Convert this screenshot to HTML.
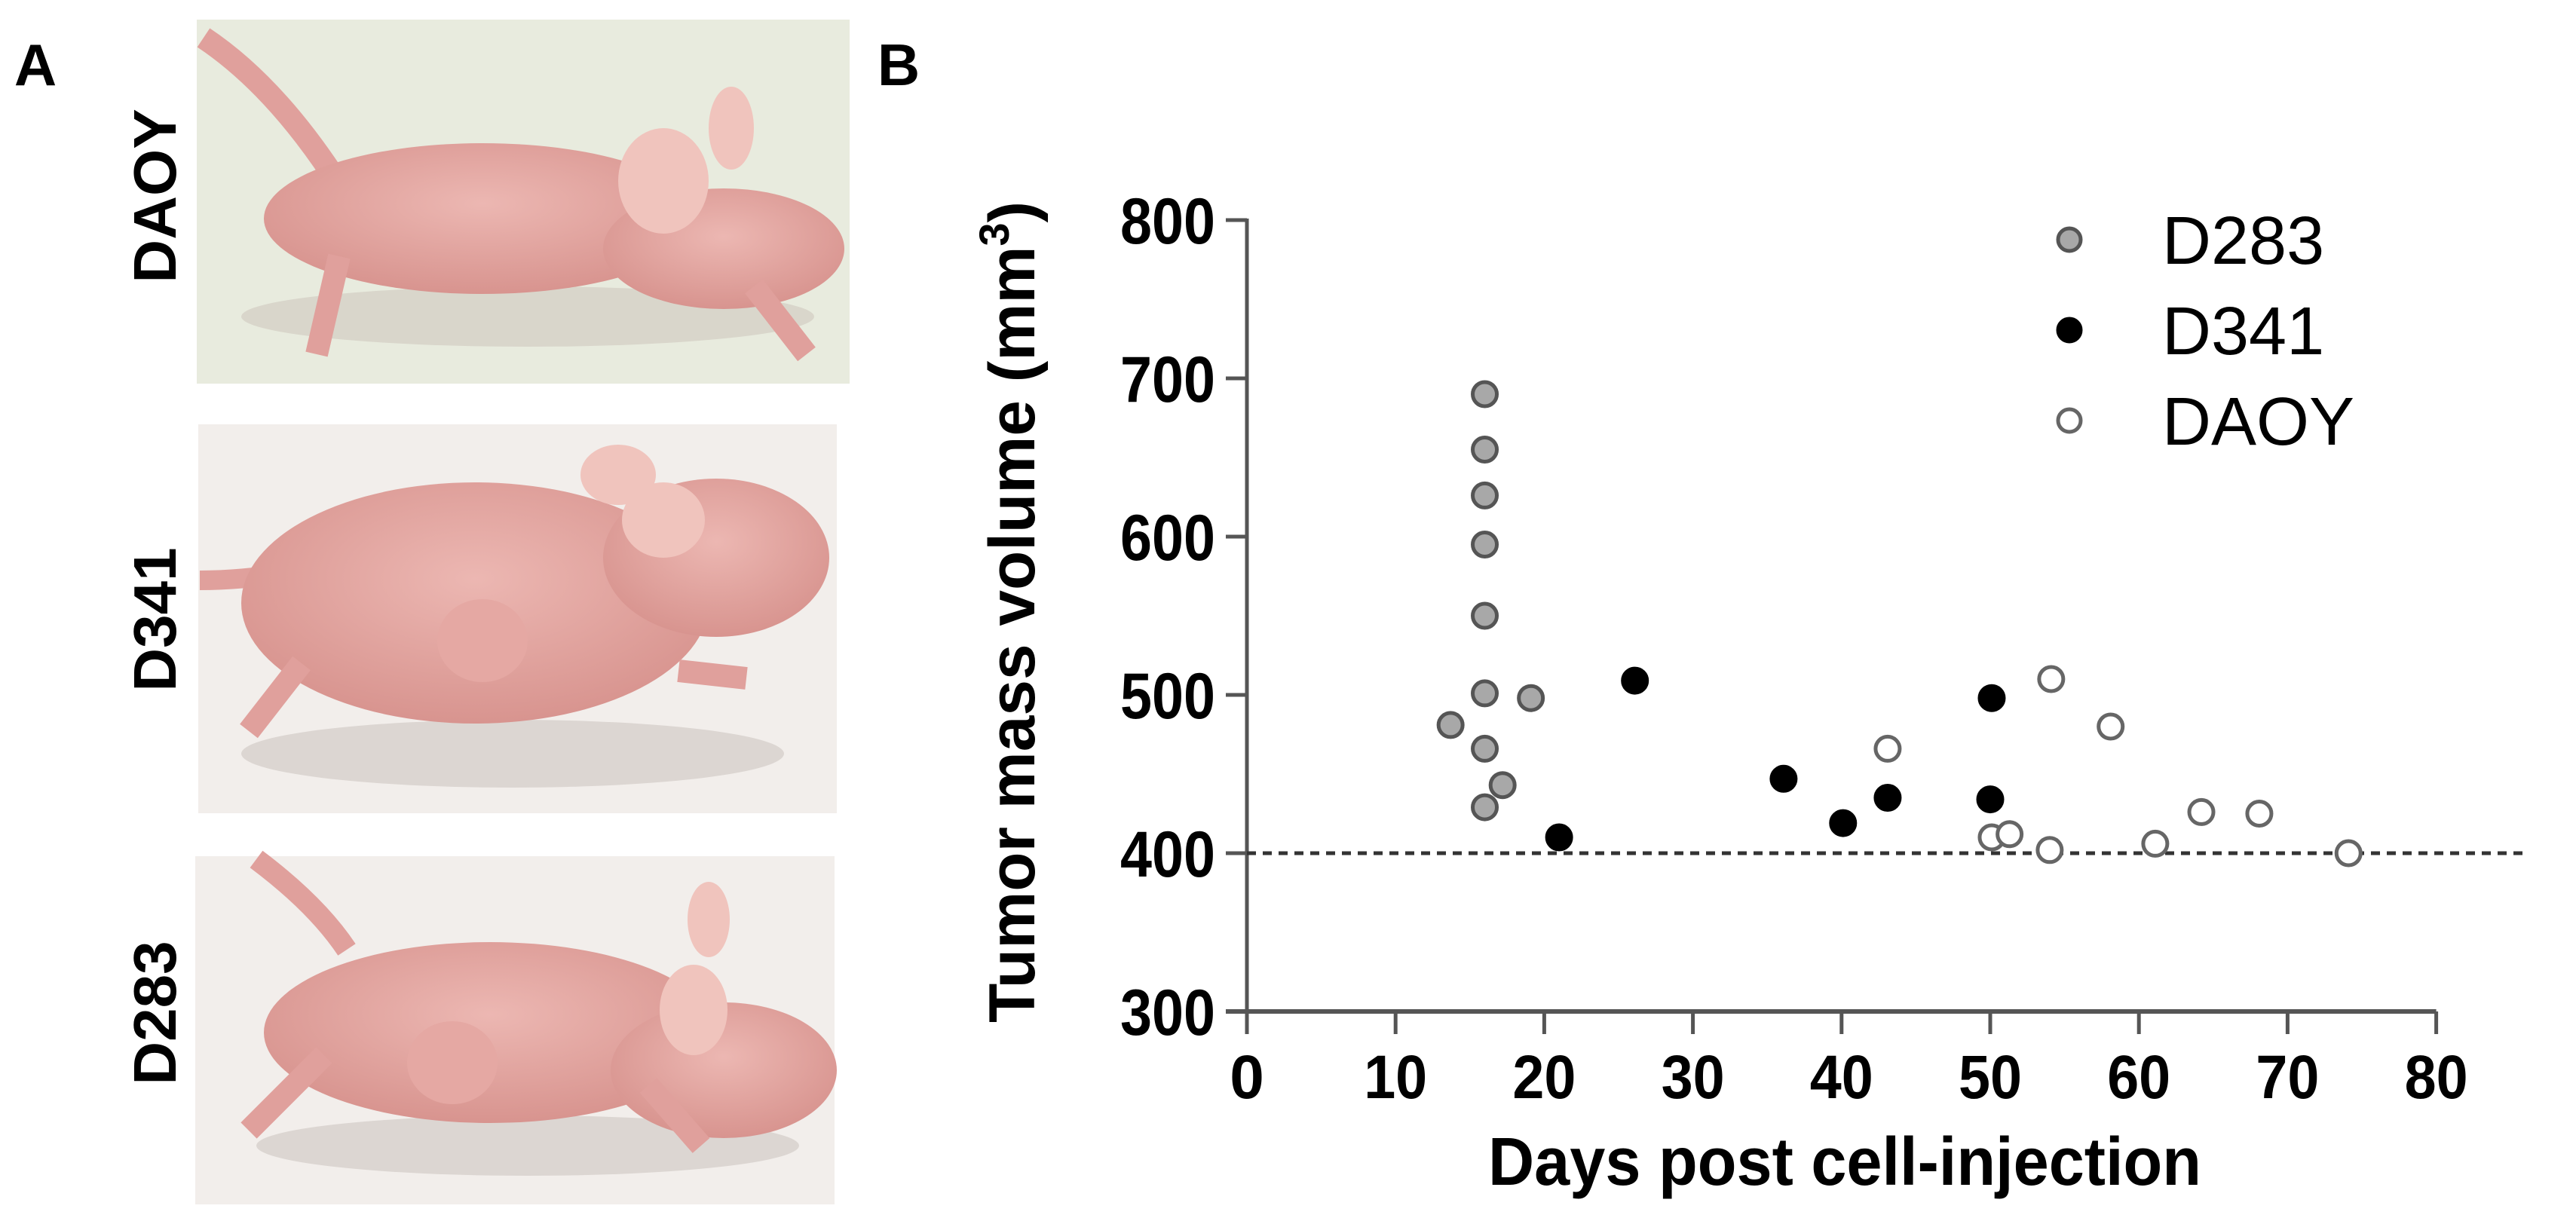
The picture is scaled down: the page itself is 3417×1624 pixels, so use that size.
<!DOCTYPE html>
<html><head><meta charset="utf-8"><style>
html,body{margin:0;padding:0;background:#fff;}
svg{display:block;font-family:"Liberation Sans",Arial,sans-serif;}
</style></head><body>
<svg id="fig" width="3417" height="1624" viewBox="0 0 3417 1624" xmlns="http://www.w3.org/2000/svg">
<defs>
<radialGradient id="pk" cx="50%" cy="40%" r="60%"><stop offset="0" stop-color="#ecb7b2"/><stop offset="1" stop-color="#d8948f"/></radialGradient>
</defs>
<g>
<text x="47" y="113" font-size="78" font-weight="bold" text-anchor="middle">A</text>
<g>
<rect x="261" y="26" width="866" height="483" fill="#e8ebde"/>
<ellipse cx="700" cy="420" rx="380" ry="40" fill="#d9d6cb"/>
<path d="M270 50 Q360 110 440 230" stroke="#e0a09c" stroke-width="30" fill="none"/>
<ellipse cx="640" cy="290" rx="290" ry="100" fill="url(#pk)"/>
<ellipse cx="960" cy="330" rx="160" ry="80" fill="url(#pk)"/>
<ellipse cx="880" cy="240" rx="60" ry="70" fill="#f0c4bd"/>
<ellipse cx="970" cy="170" rx="30" ry="55" fill="#f0c4bd"/>
<path d="M450 340 L420 470 M1000 380 L1070 470" stroke="#e0a09c" stroke-width="30"/>
</g>
<g>
<rect x="263" y="563" width="847" height="516" fill="#f2eeeb"/>
<ellipse cx="680" cy="1000" rx="360" ry="45" fill="#dcd6d2"/>
<path d="M265 770 Q320 770 380 760" stroke="#e0a09c" stroke-width="26" fill="none"/>
<ellipse cx="630" cy="800" rx="310" ry="160" fill="url(#pk)"/>
<ellipse cx="950" cy="740" rx="150" ry="105" fill="url(#pk)"/>
<ellipse cx="880" cy="690" rx="55" ry="50" fill="#f0c4bd"/>
<ellipse cx="820" cy="630" rx="50" ry="40" fill="#f0c4bd"/>
<ellipse cx="640" cy="850" rx="60" ry="55" fill="#e5a8a3"/>
<path d="M400 880 L330 970 M900 890 L990 900" stroke="#e0a09c" stroke-width="30"/>
</g>
<g>
<rect x="259" y="1136" width="848" height="462" fill="#f2eeeb"/>
<ellipse cx="700" cy="1520" rx="360" ry="40" fill="#dcd6d2"/>
<path d="M340 1140 Q420 1200 460 1260" stroke="#e0a09c" stroke-width="28" fill="none"/>
<ellipse cx="650" cy="1370" rx="300" ry="120" fill="url(#pk)"/>
<ellipse cx="960" cy="1420" rx="150" ry="90" fill="url(#pk)"/>
<ellipse cx="920" cy="1340" rx="45" ry="60" fill="#f0c4bd"/>
<ellipse cx="940" cy="1220" rx="28" ry="50" fill="#f0c4bd"/>
<ellipse cx="600" cy="1410" rx="60" ry="55" fill="#e5a8a3"/>
<path d="M430 1400 L330 1500 M860 1440 L930 1520" stroke="#e0a09c" stroke-width="30"/>
</g>
<text transform="translate(233,260) rotate(-90)" font-size="80" font-weight="bold" text-anchor="middle">DAOY</text>
<text transform="translate(233,822) rotate(-90)" font-size="80" font-weight="bold" text-anchor="middle">D341</text>
<text transform="translate(233,1344) rotate(-90)" font-size="80" font-weight="bold" text-anchor="middle">D283</text>
</g>
<text x="1192" y="113" font-size="78" font-weight="bold" text-anchor="middle">B</text>
<g id="chart"></g>
</svg>
<script>
const xTicks = [0,10,20,30,40,50,60,70,80];
const yTicks = [300,400,500,600,700,800];
const d283Days = [13.7,16,16,16,16,16,16,19.1,16,17.2,16];
const d283Vol  = [481,690,655,626,595,550,501,498,466,443,429];
const d341Days = [21,26.1,36.1,40.1,43.1,50.1,50];
const d341Vol  = [410,509,447,419,435,498,434];
const daoyDays = [43.1,50.1,51.3,54.1,54,58.1,61.1,64.2,68.1,74.1];
const daoyVol  = [466,410,412,510,402,480,406,426,425,400];
const thresholdVol = 400;
const legendLabels = ["D283","D341","DAOY"];

const NS = "http://www.w3.org/2000/svg";
const g = document.getElementById("chart");
const X0 = 1654, XPX = 19.72, Y300 = 1342, YPX = 2.1;
const xs = d => X0 + d * XPX;
const ys = v => Y300 - (v - 300) * YPX;
function mk(tag, attrs, parent) {
  const e = document.createElementNS(NS, tag);
  for (const k in attrs) e.setAttribute(k, attrs[k]);
  (parent || g).appendChild(e);
  return e;
}
let e;
e = mk("line", {x1: X0, y1: ys(300), x2: X0, y2: ys(800) - 2, stroke: "#555", "stroke-width": 5});


e = mk("line", {x1: X0 - 28, y1: ys(300), x2: xs(80), y2: ys(300), stroke: "#555", "stroke-width": 6});


yTicks.forEach(v => {
  let t = mk("line", {x1: X0 - 28, y1: ys(v), x2: X0, y2: ys(v), stroke: "#555", "stroke-width": 5});
  
  
  let l = mk("text", {x: 1612, y: ys(v) + 31, "font-size": 86, "font-weight": "bold", "text-anchor": "end", textLength: 126, lengthAdjust: "spacingAndGlyphs"});
  l.textContent = v;
  
  
});
xTicks.forEach(d => {
  let t = mk("line", {x1: xs(d), y1: ys(300), x2: xs(d), y2: ys(300) + 30, stroke: "#555", "stroke-width": 5});
  
  
  let l = mk("text", {x: xs(d), y: 1457, "font-size": 82, "font-weight": "bold", "text-anchor": "middle"});
  if (d >= 10) { l.setAttribute("textLength", 84); l.setAttribute("lengthAdjust", "spacingAndGlyphs"); }
  l.textContent = d;
  
  
});
e = mk("text", {x: 2447, y: 1572, "font-size": 90, "font-weight": "bold", "text-anchor": "middle", textLength: 946, lengthAdjust: "spacingAndGlyphs"});
e.textContent = "Days post cell-injection";


e = mk("text", {transform: "translate(1372,812) rotate(-90)", "font-size": 86, "font-weight": "bold", "text-anchor": "middle", textLength: 1090, lengthAdjust: "spacingAndGlyphs"});
e.innerHTML = 'Tumor mass volume (mm<tspan dy="-34" font-size="56">3</tspan><tspan dy="34">)</tspan>';


e = mk("line", {x1: X0, y1: ys(thresholdVol), x2: 3346, y2: ys(thresholdVol), stroke: "#333", "stroke-width": 5, "stroke-dasharray": "12 9"});


const styles = [
  {fill: "#a8a8a8", stroke: "#555"},
  {fill: "#000", stroke: "#000"},
  {fill: "#fff", stroke: "#666"}
];
const series = [[d283Days, d283Vol, "d283"], [d341Days, d341Vol, "d341"], [daoyDays, daoyVol, "daoy"]];
series.forEach((s, i) => {
  s[0].forEach((d, j) => {
    let c = mk("circle", {cx: xs(d), cy: ys(s[1][j]), r: 16, fill: styles[i].fill, stroke: styles[i].stroke, "stroke-width": 5});
    
    
  });
});
legendLabels.forEach((lab, i) => {
  const y = 318 + i * 120;
  let c = mk("circle", {cx: 2745, cy: y, r: 15, fill: styles[i].fill, stroke: styles[i].stroke, "stroke-width": 5});
  
  
  let t = mk("text", {x: 2868, y: y + 32, "font-size": 90});
  t.textContent = lab;
  
  
});
</script>
</body></html>
